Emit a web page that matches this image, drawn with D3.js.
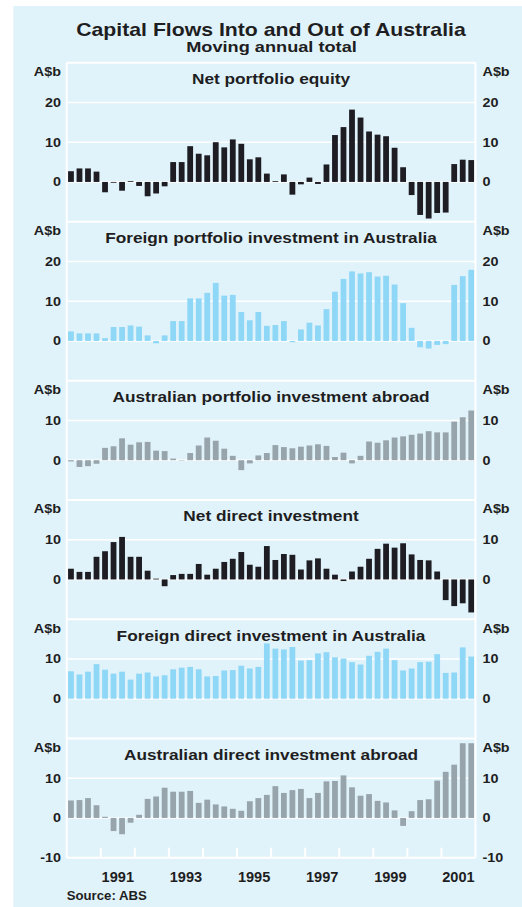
<!DOCTYPE html>
<html lang="en">
<head>
<meta charset="utf-8">
<title>Capital Flows Into and Out of Australia</title>
<script src="https://cdn.jsdelivr.net/npm/d3@7"></script>
<style>
  body { margin: 0; background: #ffffff; }
  svg text { font-family: "Liberation Sans", Arial, Helvetica, sans-serif; font-weight: bold; fill: #1e1e22; }
</style>
</head>
<body>
<script>
// quarters, March 1990 to December 2001
var quarters = [];
for (var yr = 1990; yr <= 2001; yr++) {
  for (var q = 1; q <= 4; q++) quarters.push(yr + "Q" + q);
}
var yearLabels = ["1991", "1993", "1995", "1997", "1999", "2001"];
var yearTicks = ["1991", "1992", "1993", "1994", "1995", "1996", "1997", "1998", "1999", "2000", "2001"];

// moving annual totals, A$b
var netPortfolioEquity = [2.7, 3.4, 3.4, 2.6, -2.6, -0.2, -2.2, 0.2, -1.0, -3.6, -2.9, -1.1,
  5.0, 5.0, 9.0, 7.1, 6.7, 10.0, 8.7, 10.7, 9.6, 5.7, 6.2, 2.1,
  0.2, 1.9, -3.2, -0.6, 1.1, -0.5, 4.4, 11.8, 13.8, 18.2, 16.2, 12.7,
  11.9, 11.5, 8.6, 3.7, -3.3, -8.3, -9.2, -7.8, -7.7, 4.5, 5.6, 5.5];
var foreignPortfolio = [2.4, 1.9, 1.9, 1.9, 0.7, 3.5, 3.5, 3.9, 3.6, 1.4, -0.6, 1.4,
  5.0, 5.0, 10.7, 10.7, 12.1, 14.6, 11.4, 11.6, 7.3, 5.2, 7.3, 3.8,
  4.0, 5.0, -0.3, 2.9, 4.6, 3.9, 8.0, 12.4, 15.6, 17.5, 17.0, 17.3,
  16.2, 16.4, 14.2, 9.5, 3.3, -1.6, -1.9, -1.0, -0.8, 14.1, 16.3, 17.9];
var ausPortfolioAbroad = [-0.3, -1.7, -1.5, -0.9, 3.1, 3.5, 5.5, 3.9, 4.5, 4.6, 2.4, 2.3,
  0.4, -0.1, 1.8, 3.7, 5.7, 4.9, 2.9, 1.1, -2.5, -0.8, 1.2, 1.8,
  3.8, 3.3, 3.0, 3.4, 3.7, 4.0, 3.6, 0.8, 1.9, -0.8, 1.1, 4.7,
  4.4, 5.0, 5.7, 6.0, 6.4, 6.7, 7.3, 7.0, 7.0, 9.7, 10.8, 12.5];
var netDirect = [2.7, 1.9, 1.9, 5.7, 7.1, 9.4, 10.7, 5.7, 5.7, 2.2, 0.2, -1.7,
  1.1, 1.4, 1.4, 3.9, 1.2, 2.7, 4.4, 5.2, 6.9, 3.7, 3.2, 8.4,
  4.9, 6.4, 6.2, 2.5, 4.8, 5.3, 2.7, 1.2, -0.4, 2.0, 3.2, 5.2,
  7.7, 9.0, 8.0, 9.1, 6.3, 4.9, 4.8, 2.0, -5.2, -6.7, -6.0, -8.3];
var foreignDirect = [6.9, 6.1, 6.8, 8.7, 7.3, 6.3, 6.8, 4.8, 6.3, 6.6, 5.6, 5.9,
  7.4, 7.8, 8.0, 7.4, 5.6, 5.7, 7.1, 7.2, 8.3, 7.6, 8.0, 13.9,
  12.6, 12.4, 13.0, 9.6, 9.7, 11.4, 11.7, 10.4, 10.1, 9.2, 8.6, 10.8,
  11.8, 12.6, 9.7, 7.1, 7.6, 9.2, 9.3, 11.2, 6.5, 6.6, 12.9, 10.6];
var ausDirectAbroad = [4.4, 4.5, 5.0, 3.2, 0.3, -3.3, -4.1, -1.2, 0.8, 4.8, 5.4, 7.6,
  6.6, 6.6, 6.8, 3.8, 4.6, 3.4, 2.9, 2.3, 1.8, 4.2, 5.0, 5.8,
  8.0, 6.3, 7.0, 7.3, 5.0, 6.3, 9.2, 9.3, 10.7, 7.7, 5.6, 6.0,
  4.3, 3.9, 1.9, -2.0, 1.7, 4.5, 4.7, 9.4, 11.6, 13.4, 18.8, 18.8];

var panelTitles = ["Net portfolio equity", "Foreign portfolio investment in Australia",
  "Australian portfolio investment abroad", "Net direct investment",
  "Foreign direct investment in Australia", "Australian direct investment abroad"];
var panelValues = [netPortfolioEquity, foreignPortfolio, ausPortfolioAbroad,
  netDirect, foreignDirect, ausDirectAbroad];
var panelMax = [30, 30, 20, 20, 20, 20];
var panelTicks = [[0, 10, 20], [0, 10, 20], [0, 10], [0, 10], [0, 10], [-10, 0, 10]];
var panelColors = ["#1d1d23", "#8fd7f6", "#97a4ac", "#1d1d23", "#8fd7f6", "#97a4ac"];

var w = 522;
var h = 907;
var left = 66.7;
var right = 475.5;
var top0 = 62.7;
var unit = 3.975; // pixels per A$b

var svg = d3.select("body")
  .append("svg")
  .attr("width", w)
  .attr("height", h);

svg.append("rect")
  .attr("x", 13.3).attr("y", 6)
  .attr("width", w - 13.3).attr("height", h - 6)
  .attr("fill", "#e1f3fa");

// text with horizontal stretch to mimic the wide original face
var addText = function(str, x, y, size, sx, anchor) {
  return svg.append("text")
    .attr("transform", "translate(" + x + "," + y + ") scale(" + sx + ",1)")
    .attr("text-anchor", anchor)
    .style("font-size", size + "px")
    .text(str);
};

addText("Capital Flows Into and Out of Australia", 271, 35.5, 18, 1.18, "middle");
addText("Moving annual total", 271.5, 51.5, 14, 1.3, "middle");

var xScale = d3.scaleBand()
  .domain(quarters)
  .range([left, right])
  .paddingInner(0.32)
  .paddingOuter(0.16);

var slot = xScale.step();
var edge = function(qtr) { return xScale(qtr) - slot * 0.16; };

var panelTop = top0;
var bottom;
panelValues.forEach(function(values, i) {
  var yScale = d3.scaleLinear()
    .domain([-10, panelMax[i]])
    .range([panelTop + (panelMax[i] + 10) * unit, panelTop]);
  var g = svg.append("g");

  // white grid lines
  g.selectAll("line.grid")
    .data(panelTicks[i].filter(function(t) { return t > -10; }))
    .enter()
    .append("line")
    .attr("x1", left).attr("x2", right)
    .attr("y1", function(d) { return yScale(d); })
    .attr("y2", function(d) { return yScale(d); })
    .attr("stroke", "#ffffff")
    .attr("stroke-width", 1.5);

  // panel top border
  g.append("line")
    .attr("x1", left).attr("x2", right)
    .attr("y1", yScale(panelMax[i])).attr("y2", yScale(panelMax[i]))
    .attr("stroke", "#ffffff").attr("stroke-width", 2);

  g.selectAll("rect")
    .data(values)
    .enter()
    .append("rect")
    .attr("x", function(d, j) { return xScale(quarters[j]); })
    .attr("width", xScale.bandwidth())
    .attr("y", function(d) { return yScale(Math.max(0, d)); })
    .attr("height", function(d) { return Math.abs(yScale(d) - yScale(0)); })
    .attr("fill", panelColors[i]);

  addText(panelTitles[i], 271, panelTop + 21.5, 14.5, 1.19, "middle");
  addText("A$b", 61, panelTop + 13.5, 12.5, 1.15, "end");
  addText("A$b", 482.5, panelTop + 13.5, 12.5, 1.15, "start");

  panelTicks[i].forEach(function(t) {
    addText(String(t), 61, yScale(t) + 4.5, 12.5, 1.15, "end");
    addText(String(t), 482.5, yScale(t) + 4.5, 12.5, 1.15, "start");
  });

  panelTop = yScale(-10);
  bottom = panelTop;
});

// bottom border and side borders
svg.append("line")
  .attr("x1", left).attr("x2", right)
  .attr("y1", bottom).attr("y2", bottom)
  .attr("stroke", "#ffffff").attr("stroke-width", 2);
svg.selectAll("line.side")
  .data([left, right])
  .enter()
  .append("line")
  .attr("x1", function(d) { return d; }).attr("x2", function(d) { return d; })
  .attr("y1", top0).attr("y2", bottom)
  .attr("stroke", "#ffffff").attr("stroke-width", 2);

// year ticks along the bottom
svg.selectAll("line.tick")
  .data(yearTicks)
  .enter()
  .append("line")
  .attr("x1", function(d) { return edge(d + "Q1"); })
  .attr("x2", function(d) { return edge(d + "Q1"); })
  .attr("y1", bottom - 10).attr("y2", bottom)
  .attr("stroke", "#ffffff").attr("stroke-width", 2);

yearLabels.forEach(function(yl) {
  addText(yl, edge(yl + "Q1") + slot * 2, 881.5, 14, 1.04, "middle");
});

addText("Source: ABS", 66.7, 900, 12, 1.1, "start");
</script>
</body>
</html>
